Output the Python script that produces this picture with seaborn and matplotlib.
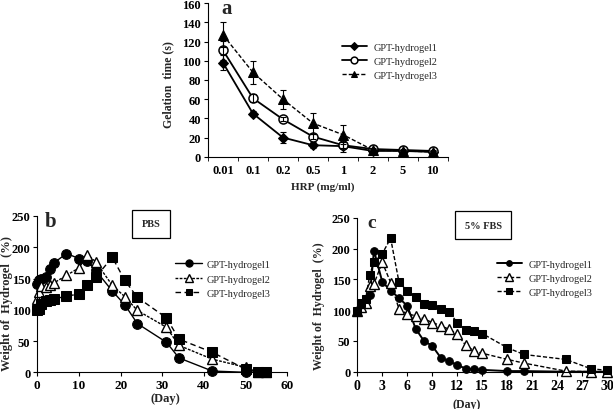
import matplotlib.pyplot as plt
import seaborn as sns
import numpy as np

sns.set_style("ticks")
plt.rcParams.update({
    "font.family": ["Liberation Serif", "DejaVu Serif"],
    "axes.linewidth": 0.8,
    "xtick.major.size": 3,
    "ytick.major.size": 3,
    "xtick.minor.size": 3,
    "xtick.direction": "out",
    "ytick.direction": "out",
    "xtick.color": "black",
    "ytick.color": "black",
    "axes.edgecolor": "black",
})

# ---- panel a : gelation time vs HRP ----
hrp = ['0.01', '0.1', '0.2', '0.5', '1', '2', '5', '10']
gel1 = [98, 45, 20, 12, 11, 6, 6, 5]
gel1_err = [8, 3, 6, 3, 6, 1, 1, 1]
gel2 = [111, 61, 39, 21, 12, 8, 7, 6]
gel2_err = [10, 4, 2, 3, 3, 1, 1, 1]
gel3 = [127, 88, 60, 35, 23, 7, 6, 5]
gel3_err = [13, 12, 10, 11, 10, 1, 1, 1]

# ---- panel b : degradation in PBS ----
days_b = [0, 0.5, 1, 2, 3, 4, 7, 10, 12, 14, 18, 21, 24, 31, 34, 42, 50, 53, 55]
pbs1 = [142, 148, 150, 153, 165, 175, 190, 182, 178, 163, 130, 108, 78, 48, 23, 2, 0, 0, 0]
pbs2 = [117, 128, 138, 137, 140, 143, 155, 167, 188, 177, 139, 121, 99, 72, 43, 21, 8, 0, 0]
pbs3 = [99, 102, 109, 114, 116, 117, 122, 125, 139, 152, 184, 147, 120, 87, 53, 32, 5, 0, 0]

# ---- panel c : degradation in 5% FBS ----
days_c = [0, 0.5, 1, 1.5, 2, 3, 4, 5, 6, 7, 8, 9, 10, 11, 12, 13, 14, 15, 18, 20, 25, 28, 30]
fbs1 = [99, 108, 115, 124, 197, 146, 132, 120, 107, 70, 50, 42, 23, 17, 11, 5, 4, 3, 1, 1, 0, 0, 0]
fbs2 = [99, 105, 111, 140, 143, 178, 145, 102, 94, 91, 86, 80, 75, 69, 61, 43, 34, 30, 20, 14, 1, 0, 0]
fbs3 = [99, 112, 118, 158, 178, 192, 217, 146, 131, 121, 110, 108, 102, 97, 80, 68, 66, 62, 39, 28, 20, 5, 2]
markers_c = [True] * 20 + [False, False, True]

labels = ['GPT-hydrogel1', 'GPT-hydrogel2', 'GPT-hydrogel3']

W, H = 613, 410
fig = plt.figure(figsize=(W / 100, H / 100), dpi=100)


def add_ax(left, top, right, bottom):
    return fig.add_axes([left / W, 1 - bottom / H, (right - left) / W, (bottom - top) / H])


def style(ax, xsize, ysize=9):
    sns.despine(ax=ax)
    ax.tick_params(axis='y', labelsize=ysize, pad=2)
    ax.tick_params(axis='x', labelsize=xsize, pad=2)
    for lab in ax.get_xticklabels() + ax.get_yticklabels():
        lab.set_fontweight('bold')


def legend(ax, x, y, hl, tp, sp):
    ax.legend(handles=ax.get_lines()[:3], labels=labels, loc='center left',
              bbox_to_anchor=(x, y), frameon=False, fontsize=7.5,
              handlelength=hl, handletextpad=tp, labelspacing=sp,
              borderpad=0, borderaxespad=0, markerscale=0.75)


# panel a
ax = add_ax(208, 4.3, 447.7, 157.7)
sns.lineplot(x=hrp, y=gel1, ax=ax, sort=False, color='k', lw=1.3, marker='D',
             markersize=5, markerfacecolor='k', markeredgecolor='k', clip_on=False)
sns.lineplot(x=hrp, y=gel2, ax=ax, sort=False, color='k', lw=1.3, marker='o',
             markersize=6.5, markerfacecolor='white', markeredgecolor='k',
             markeredgewidth=1.1, clip_on=False)
sns.lineplot(x=hrp, y=gel3, ax=ax, sort=False, color='k', lw=1.0, marker='^',
             markersize=6.5, markerfacecolor='k', markeredgecolor='k', clip_on=False)
ax.get_lines()[2].set_dashes([3, 1.5])
for vals, err in [(gel1, gel1_err), (gel2, gel2_err), (gel3, gel3_err)]:
    ax.errorbar(hrp, vals, yerr=err, fmt='none', ecolor='k', elinewidth=0.8,
                capsize=2.5, capthick=0.8)
ax.set_ylim(0, 160)
ax.set_yticks(range(0, 161, 20))
ax.set_xlim(-0.47, 7.25)
ax.set_xticks(np.arange(-0.5, 7.6, 1), minor=True)
style(ax, 9)
ax.tick_params(axis='x', which='major', length=0, pad=5.5)
legend(ax, 0.558, 0.622, 2.4, 0.7, 0.45)
ax.set_ylabel('Gelation  time (s)', fontsize=8.5, fontweight='bold', va='center')
ax.yaxis.set_label_coords(-0.167, 0.474)
ax.set_xlabel('HRP (mg/ml)', fontsize=8, fontweight='bold', va='center')
ax.xaxis.set_label_coords(0.48, -0.195)
ax.text(0.078, 0.97, 'a', transform=ax.transAxes, fontsize=15, fontweight='bold',
        ha='center', va='center')

# panel b
ax = add_ax(37.3, 217, 287.3, 373.3)
sns.lineplot(x=days_b, y=pbs1, ax=ax, sort=False, color='k', lw=1.0, marker='o',
             markersize=7, markerfacecolor='k', markeredgecolor='k', clip_on=False)
sns.lineplot(x=days_b, y=pbs2, ax=ax, sort=False, color='k', lw=1.0, marker='^',
             markersize=7, markerfacecolor='white', markeredgecolor='k',
             markeredgewidth=1.0, clip_on=False)
sns.lineplot(x=days_b, y=pbs3, ax=ax, sort=False, color='k', lw=1.0, marker='s',
             markersize=6.5, markerfacecolor='k', markeredgecolor='k', clip_on=False)
ax.get_lines()[1].set_dashes([2, 1])
ax.get_lines()[2].set_dashes([4, 2.5])
ax.set_xlim(0, 60)
ax.set_ylim(0, 250)
ax.set_xticks(range(0, 61, 10))
ax.set_yticks(range(0, 251, 50))
style(ax, 9.5)
legend(ax, 0.551, 0.597, 2.6, 0.45, 0.5)
ax.set_ylabel('Weight of  Hydrogel  (%)', fontsize=9, fontweight='bold', va='center')
ax.yaxis.set_label_coords(-0.123, 0.443)
ax.set_xlabel('(Day)', fontsize=9, fontweight='bold', va='center')
ax.xaxis.set_label_coords(0.511, -0.165)
ax.text(0.053, 0.97, 'b', transform=ax.transAxes, fontsize=15, fontweight='bold',
        ha='center', va='center')
ax.text(0.455, 0.949, 'PBS', transform=ax.transAxes, fontsize=7.5, fontweight='bold',
        ha='center', va='center',
        bbox=dict(boxstyle='square,pad=0.9', fc='white', ec='k', lw=0.9))

# panel c
ax = add_ax(357.3, 219, 607.3, 372.7)
sns.lineplot(x=days_c, y=fbs1, ax=ax, sort=False, color='k', lw=1.4, marker='o',
             markersize=5.5, markerfacecolor='k', markeredgecolor='k',
             markevery=markers_c, clip_on=False)
sns.lineplot(x=days_c, y=fbs2, ax=ax, sort=False, color='k', lw=1.0, marker='^',
             markersize=7.5, markerfacecolor='white', markeredgecolor='k',
             markeredgewidth=1.0, clip_on=False)
sns.lineplot(x=days_c, y=fbs3, ax=ax, sort=False, color='k', lw=1.0, marker='s',
             markersize=6, markerfacecolor='k', markeredgecolor='k', clip_on=False)
ax.get_lines()[1].set_dashes([3, 1.5])
ax.get_lines()[2].set_dashes([3, 1.5])
ax.set_xlim(0, 30)
ax.set_ylim(0, 250)
ax.set_xticks(range(0, 31, 3))
ax.set_yticks(range(0, 251, 50))
style(ax, 10)
legend(ax, 0.558, 0.608, 2.4, 0.7, 0.45)
ax.set_ylabel('Weight of  Hydrogel  (%)', fontsize=8.5, fontweight='bold', va='center')
ax.yaxis.set_label_coords(-0.153, 0.435)
ax.set_xlabel('(Day)', fontsize=8.5, fontweight='bold', va='center')
ax.xaxis.set_label_coords(0.439, -0.21)
ax.text(0.057, 0.97, 'c', transform=ax.transAxes, fontsize=14, fontweight='bold',
        ha='center', va='center')
ax.text(0.504, 0.954, '5% FBS', transform=ax.transAxes, fontsize=7.5, fontweight='bold',
        ha='center', va='center',
        bbox=dict(boxstyle='square,pad=0.9', fc='white', ec='k', lw=0.9))

fig.savefig('out.png', dpi=100)
